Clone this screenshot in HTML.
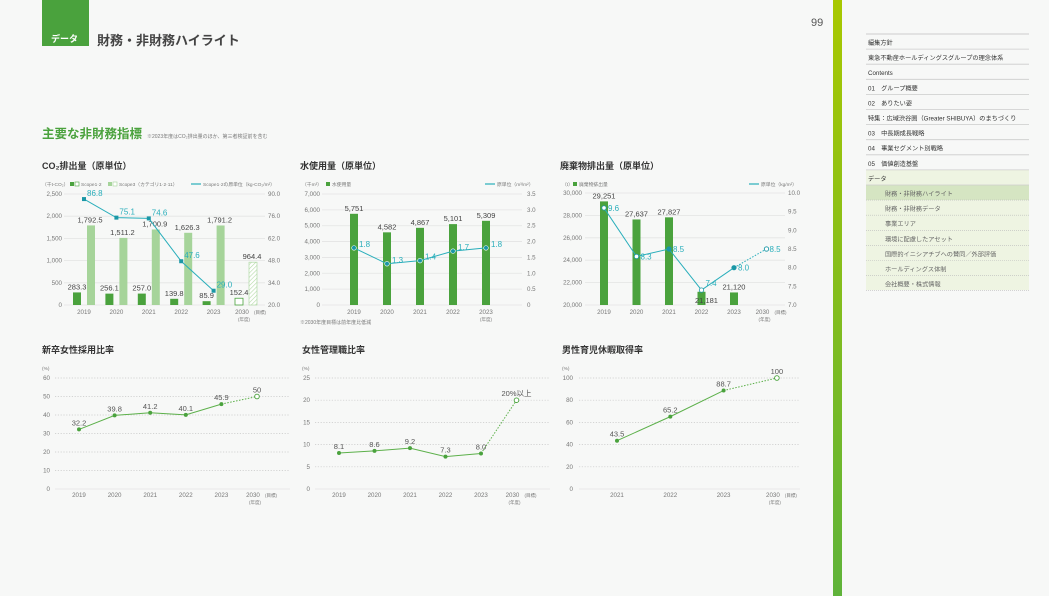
<!DOCTYPE html>
<html><head><meta charset="utf-8">
<style>
html,body{margin:0;padding:0;background:#f7f8f7;}
svg{display:block;font-family:"Liberation Sans","Noto Sans CJK JP",sans-serif;}
</style></head>
<body>
<svg id="s" width="1049" height="596" viewBox="0 0 1049 596" xmlns="http://www.w3.org/2000/svg">
<defs>
<linearGradient id="vg" x1="0" y1="0" x2="0" y2="1"><stop offset="0" stop-color="#a8c800"/><stop offset="1" stop-color="#5fb33a"/></linearGradient>
<pattern id="hatch" width="3" height="3" patternUnits="userSpaceOnUse" patternTransform="rotate(45)"><rect width="3" height="3" fill="#fff"/><line x1="0" y1="0" x2="0" y2="3" stroke="#b5dba8" stroke-width="1.2"/></pattern>
</defs>
<rect x="833" y="0" width="9" height="596" fill="url(#vg)"/>
<text x="811" y="26" font-size="11" fill="#555">99</text>
<rect x="42" y="0" width="47" height="46" fill="#4aa23d"/>
<text x="51" y="42" font-size="9" font-weight="bold" fill="#fff">データ</text>
<text x="97" y="45" font-size="13" font-weight="bold" fill="#444">財務・非財務ハイライト</text>
<text x="42" y="138" font-size="12.5" font-weight="bold" fill="#4aa23d">主要な非財務指標</text>
<text x="147" y="138" font-size="5" fill="#777">※2023年度はCO₂排出量のほか、第三者検証前を含む</text>
<g id="charts"></g>
<g id="nav"></g>
</svg>
<script>
// ---- CO2 chart data ----
const co2Years = ["2019","2020","2021","2022","2023"];
const co2Scope12 = [283.3,256.1,257.0,139.8,85.9];
const co2Scope3 = [1792.5,1511.2,1700.9,1626.3,1791.2];
const co2Intensity = [86.8,75.1,74.6,47.6,29.0];
const co2Target12 = 152.4;
const co2Target3 = 964.4;
const co2LeftTicks = [0,500,1000,1500,2000,2500];
const co2RightTicks = [20.0,34.0,48.0,62.0,76.0,90.0];
// ---- Water chart data ----
const waterYears = ["2019","2020","2021","2022","2023"];
const waterUse = [5751,4582,4867,5101,5309];
const waterIntensity = [1.8,1.3,1.4,1.7,1.8];
const waterLeftTicks = [0,1000,2000,3000,4000,5000,6000,7000];
const waterRightTicks = [0,0.5,1.0,1.5,2.0,2.5,3.0,3.5];
// ---- Waste chart data ----
const wasteYears = ["2019","2020","2021","2022","2023"];
const wasteAmount = [29251,27637,27827,21181,21120];
const wasteIntensity = [9.6,8.3,8.5,7.4,8.0];
const wasteTarget = 8.5;
const wasteLeftTicks = [20000,22000,24000,26000,28000,30000];
const wasteRightTicks = [7.0,7.5,8.0,8.5,9.0,9.5,10.0];
// ---- Ratio charts ----
const gradYears = ["2019","2020","2021","2022","2023"];
const gradValues = [32.2,39.8,41.2,40.1,45.9];
const gradTarget = 50;
const gradTicks = [0,10,20,30,40,50,60];
const mgrYears = ["2019","2020","2021","2022","2023"];
const mgrValues = [8.1,8.6,9.2,7.3,8.0];
const mgrTarget = 20;
const mgrTicks = [0,5,10,15,20,25];
const leaveYears = ["2021","2022","2023"];
const leaveValues = [43.5,65.2,88.7];
const leaveTarget = 100;
const leaveTicks = [0,20,40,60,80,100];
const navItems = ["編集方針","東急不動産ホールディングスグループの理念体系","Contents","01　グループ概要","02　ありたい姿","特集：広域渋谷圏（Greater SHIBUYA）のまちづくり","03　中長期成長戦略","04　事業セグメント別戦略","05　価値創造基盤","データ","財務・非財務ハイライト","財務・非財務データ","事業エリア","環境に配慮したアセット","国際的イニシアチブへの賛同／外部評価","ホールディングス体制","会社概要・株式情報"];

const NS="http://www.w3.org/2000/svg";
const root=document.getElementById('charts');
function mk(tag,attrs,parent,txt){const e=document.createElementNS(NS,tag);for(const k in attrs)e.setAttribute(k,attrs[k]);if(txt!==undefined)e.textContent=txt;(parent||root).appendChild(e);return e;}
function lin(d0,d1,p0,p1){return v=>p0+(v-d0)*(p1-p0)/(d1-d0);}
function fmt(v,dec){return v.toLocaleString('en-US',{minimumFractionDigits:dec,maximumFractionDigits:dec});}
const GRAY="#777", TEAL="#29aebb", TEALD="#1a97a6", DG="#4aa23d", LG="#a6d49a";

function title(x,y,t,name){const e=mk('text',{x:x,y:y,'font-size':9,'font-weight':'bold',fill:'#333'},root,t);}
function tick(x,y,t,anchor,name,size){const e=mk('text',{x:x,y:y,'font-size':size||6.2,fill:GRAY,'text-anchor':anchor},root,t);return e;}
function grid(x0,x1,y,dotted,name){const e=mk('line',{x1:x0,x2:x1,y1:y,y2:y,stroke:dotted?'#c8c8c8':'#e4e4e4','stroke-width':dotted?0.7:0.8,'stroke-dasharray':dotted?'1.2,1.6':''});}
function yearLbl(x,y,t,target){tick(x,y,t,'middle','x-tick-label',6.2);if(target){tick(x+12,y,'(目標)','start','x-tick-note',4.5);tick(x+2,y+7,'(年度)','middle','x-axis-unit',4.5);}}

// ===== CO2 =====
title(42,169,'CO₂排出量（原単位）','co2-chart-title');
tick(42,186,'（千t-CO₂）','start','co2-left-unit',4.8);
mk('rect',{x:70,y:182,width:4,height:4,fill:DG});mk('rect',{x:75,y:182,width:4,height:4,fill:'#fff',stroke:DG,'stroke-width':0.6});
tick(81,186,'Scope1·2','start','legend-scope12',4.8);
mk('rect',{x:108,y:182,width:4,height:4,fill:LG});mk('rect',{x:113,y:182,width:4,height:4,fill:'#fff',stroke:LG,'stroke-width':0.6});
tick(119,186,'Scope3（カテゴリ1·2·11）','start','legend-scope3',4.8);
mk('line',{x1:191,x2:201,y1:184,y2:184,stroke:TEAL,'stroke-width':1.2});
tick(203,186,'Scope1·2の原単位（kg-CO₂/m²）','start','legend-intensity',4.8);
{
 const yL=lin(0,2500,305,194), yR=lin(20,90,305,194), cx=i=>84+i*32.4;
 co2LeftTicks.forEach(t=>{grid(64,265,yL(t),false,'y-gridline');tick(62,yL(t)+2,fmt(t,0),'end','y-tick-label-left');});
 co2RightTicks.forEach(t=>tick(268,yR(t)+2,t.toFixed(1),'start','y-tick-label-right'));
 co2Years.forEach((yr,i)=>{
  let b=mk('rect',{x:cx(i)-11,y:yL(co2Scope12[i]),width:8,height:305-yL(co2Scope12[i]),fill:DG});
  
  b=mk('rect',{x:cx(i)+3,y:yL(co2Scope3[i]),width:8,height:305-yL(co2Scope3[i]),fill:LG});
  
  tick(cx(i)-7,yL(co2Scope12[i])-3,fmt(co2Scope12[i],1),'middle','value-label-scope12',7.5).setAttribute('fill','#444');
  tick(cx(i)+6,yL(co2Scope3[i])-3,fmt(co2Scope3[i],1),'middle','value-label-scope3',7.5).setAttribute('fill','#444');
  yearLbl(cx(i),314,yr,false);
 });
 const t5=cx(5);
 let b=mk('rect',{x:t5-11,y:yL(co2Target12),width:8,height:305-yL(co2Target12),fill:'#fff',stroke:DG,'stroke-width':0.8});
 
 b=mk('rect',{x:t5+3,y:yL(co2Target3),width:8,height:305-yL(co2Target3),fill:'url(#hatch)',stroke:LG,'stroke-width':0.6});
 
 tick(t5-7,yL(co2Target12)-3,fmt(co2Target12,1),'middle','value-label-target12',7.5).setAttribute('fill','#444');
 tick(t5+6,yL(co2Target3)-3,fmt(co2Target3,1),'middle','value-label-target3',7.5).setAttribute('fill','#444');
 yearLbl(t5-4,314,'2030',true);
 const pts=co2Intensity.map((v,i)=>cx(i)+','+yR(v)).join(' ');
 let l=mk('polyline',{points:pts,fill:'none',stroke:TEAL,'stroke-width':1});
 
 co2Intensity.forEach((v,i)=>{let p=mk('rect',{x:cx(i)-2,y:yR(v)-2,width:4,height:4,fill:TEALD});
  tick(cx(i)+3,yR(v)-3,v.toFixed(1),'start','intensity-value',8).setAttribute('fill',TEAL);});
}

// ===== Water =====
title(300,169,'水使用量（原単位）','water-chart-title');
tick(302,186,'（千m³）','start','water-left-unit',4.8);
mk('rect',{x:326,y:182,width:4,height:4,fill:DG});tick(332,186,'水使用量','start','legend-water',4.8);
mk('line',{x1:485,x2:495,y1:184,y2:184,stroke:TEAL,'stroke-width':1.2});tick(497,186,'原単位（m³/m²）','start','legend-water-intensity',4.8);
{
 const yL=lin(0,7000,305,194), yR=lin(0,3.5,305,194), cx=i=>354+i*33;
 waterLeftTicks.forEach(t=>{grid(322,522,yL(t),false,'y-gridline');tick(320,yL(t)+2,fmt(t,0),'end','y-tick-label-left');});
 waterRightTicks.forEach(t=>tick(527,yR(t)+2,t===0?'0':t.toFixed(1),'start','y-tick-label-right'));
 waterYears.forEach((yr,i)=>{
  let b=mk('rect',{x:cx(i)-4,y:yL(waterUse[i]),width:8,height:305-yL(waterUse[i]),fill:DG});
  
  tick(cx(i),yL(waterUse[i])-3,fmt(waterUse[i],0),'middle','value-label-water',7.5).setAttribute('fill','#444');
  yearLbl(cx(i),314,yr,false);
 });
 tick(486,321,'(年度)','middle','x-axis-unit',4.5);
 let l=mk('polyline',{points:waterIntensity.map((v,i)=>cx(i)+','+yR(v)).join(' '),fill:'none',stroke:TEAL,'stroke-width':1});
 
 waterIntensity.forEach((v,i)=>{let p=mk('circle',{cx:cx(i),cy:yR(v),r:2.3,fill:TEALD,stroke:'#fff','stroke-width':0.6});
  tick(cx(i)+5,yR(v)-1,v.toFixed(1),'start','water-intensity-value',8).setAttribute('fill',TEAL);});
 tick(300,324,'※2030年度目標は前年度比低減','start','water-note',5);
}

// ===== Waste =====
title(560,169,'廃棄物排出量（原単位）','waste-chart-title');
tick(562,186,'（t）','start','waste-left-unit',4.8);
mk('rect',{x:573,y:182,width:4,height:4,fill:DG});tick(579,186,'廃棄物排出量','start','legend-waste',4.8);
mk('line',{x1:749,x2:759,y1:184,y2:184,stroke:TEAL,'stroke-width':1.2});tick(761,186,'原単位（kg/m²）','start','legend-waste-intensity',4.8);
{
 const yL=lin(20000,30000,305,193), yR=lin(7,10,305,193), cx=i=>604+i*32.5;
 wasteLeftTicks.forEach(t=>{grid(585,785,yL(t),false,'y-gridline');tick(582,yL(t)+2,fmt(t,0),'end','y-tick-label-left');});
 wasteRightTicks.forEach(t=>tick(788,yR(t)+2,t.toFixed(1),'start','y-tick-label-right'));
 wasteYears.forEach((yr,i)=>{
  let b=mk('rect',{x:cx(i)-4,y:yL(wasteAmount[i]),width:8,height:305-yL(wasteAmount[i]),fill:DG});
  
  const below=i===3;
  tick(below?cx(i)+5:cx(i),below?yL(wasteAmount[i])+11:yL(wasteAmount[i])-3,fmt(wasteAmount[i],0),'middle','value-label-waste',7.5).setAttribute('fill','#444');
  yearLbl(cx(i),314,yr,false);
 });
 yearLbl(cx(5)-4,314,'2030',true);
 let l=mk('polyline',{points:wasteIntensity.map((v,i)=>cx(i)+','+yR(v)).join(' '),fill:'none',stroke:TEAL,'stroke-width':1});
 
 l=mk('line',{x1:cx(4),y1:yR(wasteIntensity[4]),x2:cx(5),y2:yR(wasteTarget),stroke:TEAL,'stroke-width':1,'stroke-dasharray':'1.5,1.5'});
 
 wasteIntensity.forEach((v,i)=>{const open=(i===0||i===1||i===3);
  let p=mk('circle',{cx:cx(i),cy:yR(v),r:2.2,fill:open?'#fff':TEALD,stroke:TEALD,'stroke-width':0.8});
  tick(cx(i)+4,yR(v)+(i===3?-4:3),v.toFixed(1),'start','waste-intensity-value',8).setAttribute('fill',TEAL);});
 let p=mk('circle',{cx:cx(5),cy:yR(wasteTarget),r:2.2,fill:'#fff',stroke:TEALD,'stroke-width':0.9});
 tick(cx(5)+3,yR(wasteTarget)+3,wasteTarget.toFixed(1),'start','waste-target-value',8).setAttribute('fill',TEAL);
}

// ===== ratio line charts =====
function ratioChart(o){
 title(o.tx,353,o.title,o.name+'-title');
 tick(o.tx,370,'(%)','start',o.name+'-unit',4.8);
 const y=lin(0,o.max,489,378);
 o.ticks.forEach(t=>{grid(o.gx0,o.gx1,y(t),t!==0,'y-gridline');tick(o.lx,y(t)+2,String(t),'end','y-tick-label');});
 const cx=i=>o.x0+i*o.dx;
 o.years.forEach((yr,i)=>yearLbl(cx(i),497,yr,false));
 const tx=cx(o.years.length);
 yearLbl(tx-4,497,'2030',true);
 let l=mk('polyline',{points:o.vals.map((v,i)=>cx(i)+','+y(v)).join(' '),fill:'none',stroke:'#5cb04a','stroke-width':1});
 
 const last=o.vals.length-1;
 l=mk('line',{x1:cx(last),y1:y(o.vals[last]),x2:tx,y2:y(o.target),stroke:'#5cb04a','stroke-width':1,'stroke-dasharray':'1.5,1.5'});
 
 o.vals.forEach((v,i)=>{let p=mk('circle',{cx:cx(i),cy:y(v),r:2,fill:DG});
  tick(cx(i),y(v)-4,v.toFixed(1),'middle',o.name+'-value',7.5).setAttribute('fill','#555');});
 let p=mk('circle',{cx:tx,cy:y(o.target),r:2.3,fill:'#fff',stroke:DG,'stroke-width':0.9});
 tick(tx,y(o.target)-4,o.targetLabel,'middle',o.name+'-target-value',7.5).setAttribute('fill','#555');
}
ratioChart({title:'新卒女性採用比率',name:'grad',tx:42,gx0:55,gx1:290,lx:50,max:60,ticks:gradTicks,years:gradYears,vals:gradValues,target:gradTarget,targetLabel:String(gradTarget),x0:79,dx:35.6});
ratioChart({title:'女性管理職比率',name:'mgr',tx:302,gx0:315,gx1:550,lx:310,max:25,ticks:mgrTicks,years:mgrYears,vals:mgrValues,target:mgrTarget,targetLabel:mgrTarget+'%以上',x0:339,dx:35.5});
ratioChart({title:'男性育児休暇取得率',name:'leave',tx:562,gx0:579,gx1:800,lx:573,max:100,ticks:leaveTicks,years:leaveYears,vals:leaveValues,target:leaveTarget,targetLabel:String(leaveTarget),x0:617,dx:53.3});

// ===== nav =====
const nav=document.getElementById('nav');
mk('rect',{x:866,y:170,width:163,height:120,fill:'#eef4e2'},nav);
mk('rect',{x:866,y:185,width:163,height:15,fill:'#d5e5c2'},nav);
mk('line',{x1:866,x2:1029,y1:34,y2:34,stroke:'#ccc','stroke-width':1},nav);
navItems.forEach((t,i)=>{
 const yb=34+i*15.1, sub=i>=10;
 const e=mk('text',{x:sub?885:868,y:yb+11,'font-size':sub?6.2:6.2,fill:sub?'#666':'#333'},nav,t);
 
 
 mk('line',{x1:866,x2:1029,y1:yb+15.1,y2:yb+15.1,stroke:sub?'#bbb':'#ccc','stroke-width':sub?0.6:0.8,'stroke-dasharray':sub?'1,1':''},nav);
});
</script>
</body></html>
